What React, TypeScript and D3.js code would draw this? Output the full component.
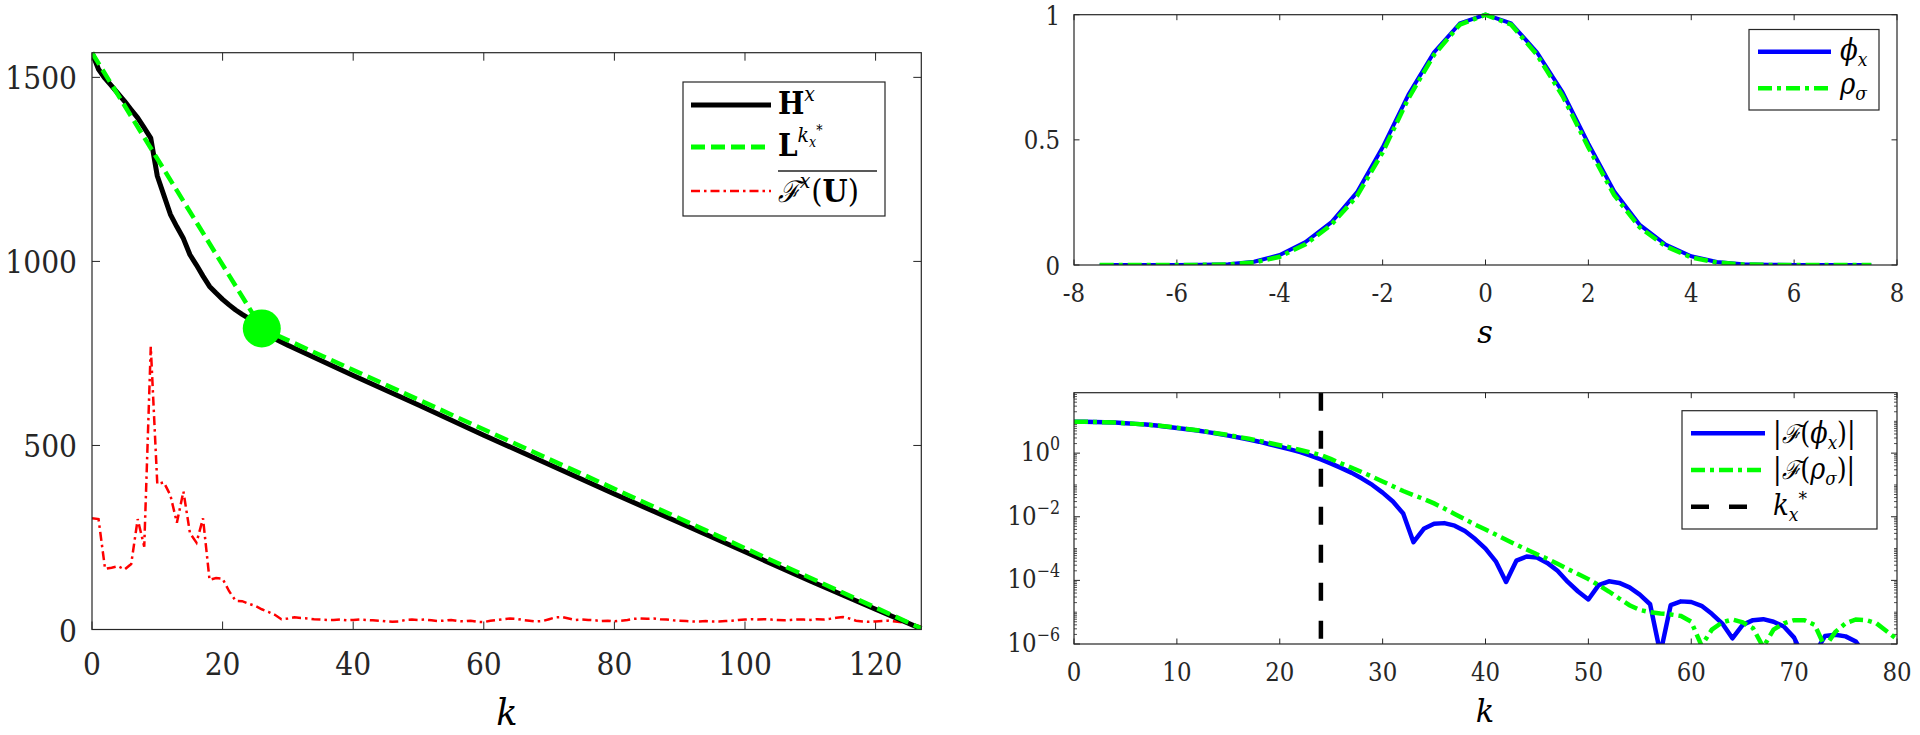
import React from 'react';
import * as d3 from 'd3';

// ---------------- Left panel data ----------------
const hK = [0, 1, 2, 3, 4, 5, 6, 7, 8, 9, 10, 11, 12, 13, 14, 15, 16, 17, 18, 19, 20, 21, 22, 23, 24, 25, 26, 27, 28, 30, 40, 50, 60, 70, 80, 90, 100, 110, 120, 127];
const hV = [1567, 1522, 1497, 1477, 1456, 1435, 1412, 1390, 1363, 1335, 1232, 1180, 1128, 1094, 1062, 1018, 990, 960, 932, 914, 897, 882, 868, 856, 845, 830, 815, 801, 790, 772, 690, 610, 528, 448, 368, 290, 211, 132, 55, 2];
const lK = [0, 26, 127];
const lV = [1567, 818, 3];
const kneeK = 26;
const kneeV = 818;
const redV = [
  302, 300, 165, 168, 172, 163, 178, 300, 225, 768, 395, 400, 365, 290, 375, 262, 236, 302, 135, 140,
  138, 104, 78, 77, 70, 64, 55, 48, 40, 28, 30, 33, 31, 30, 28, 27, 26, 26, 27, 25,
  26, 27, 26, 25, 24, 22, 21, 22, 26, 27, 26, 27, 25, 23, 24, 26, 23, 22, 24, 21,
  20, 24, 26, 28, 30, 29, 26, 24, 22, 23, 28, 33, 34, 30, 26, 27, 26, 25, 23, 24,
  22, 24, 26, 29, 30, 29, 30, 28, 27, 25, 24, 23, 22, 22, 23, 22, 22, 23, 24, 26,
  27, 28, 27, 28, 27, 26, 25, 26, 27, 27, 26, 28, 27, 29, 32, 34, 30, 24, 22, 21,
  22, 23, 24, 22, 20, 17, 12, 8];
const leftXTicks = [0, 20, 40, 60, 80, 100, 120];
const leftYTicks = [0, 500, 1000, 1500];

// ---------------- Top right panel data ----------------
const sVals = [-7.5, -7, -6.5, -6, -5.5, -5, -4.5, -4, -3.5, -3, -2.5, -2, -1.5, -1, -0.5, 0, 0.5, 1, 1.5, 2, 2.5, 3, 3.5, 4, 4.5, 5, 5.5, 6, 6.5, 7, 7.5];
const phiX = [0, 0, 0, 0.0005, 0.001, 0.003, 0.013, 0.04, 0.092, 0.17, 0.29, 0.47, 0.68, 0.85, 0.965, 1, 0.965, 0.85, 0.69, 0.485, 0.295, 0.16, 0.082, 0.035, 0.012, 0.003, 0.001, 0, 0, 0, 0];
const rhoSigma = [0, 0, 0, 0, 0.0005, 0.002, 0.01, 0.033, 0.083, 0.16, 0.275, 0.45, 0.665, 0.84, 0.96, 1, 0.96, 0.84, 0.675, 0.47, 0.28, 0.15, 0.075, 0.03, 0.01, 0.002, 0.0005, 0, 0, 0, 0];
const topXTicks = [-8, -6, -4, -2, 0, 2, 4, 6, 8];
const topYTicks = [0, 0.5, 1];
const topYLabels = ['0', '0.5', '1'];

// ---------------- Bottom right panel data (log10 of magnitude) ----------------
const kSpec = d3.range(0, 81);
const phiHatExp = [
  0.99, 0.99, 0.98, 0.97, 0.96, 0.94, 0.92, 0.90, 0.87, 0.83,
  0.79, 0.75, 0.71, 0.66, 0.61, 0.55, 0.49, 0.43, 0.36, 0.28,
  0.20, 0.12, 0.03, -0.08, -0.20, -0.33, -0.47, -0.62, -0.80, -1.00,
  -1.24, -1.52, -1.90, -2.80, -2.38, -2.22, -2.20, -2.28, -2.45, -2.70,
  -3.00, -3.40, -4.05, -3.38, -3.25, -3.28, -3.45, -3.70, -4.05, -4.35,
  -4.60, -4.15, -4.03, -4.08, -4.22, -4.45, -4.75, -6.30, -4.78, -4.66,
  -4.68, -4.80, -5.05, -5.35, -5.82, -5.40, -5.25, -5.22, -5.30, -5.45,
  -5.80, -6.50, -6.30, -5.75, -5.71, -5.76, -5.92, -6.40, -6.80, -7.00, -7.00];
const rhoHatExp = [
  0.99, 0.99, 0.98, 0.97, 0.96, 0.94, 0.92, 0.90, 0.87, 0.84,
  0.80, 0.76, 0.72, 0.67, 0.62, 0.57, 0.51, 0.45, 0.39, 0.32,
  0.25, 0.18, 0.10, 0.02, -0.06, -0.19, -0.33, -0.46, -0.60, -0.74,
  -0.89, -1.04, -1.19, -1.32, -1.44, -1.58, -1.74, -1.91, -2.08, -2.25,
  -2.40, -2.56, -2.72, -2.88, -3.03, -3.18, -3.32, -3.48, -3.64, -3.80,
  -3.96, -4.15, -4.35, -4.57, -4.78, -4.93, -5.00, -5.04, -5.07, -5.12,
  -5.30, -6.05, -5.55, -5.32, -5.23, -5.32, -5.50, -6.10, -5.55, -5.35,
  -5.25, -5.25, -5.40, -6.10, -5.62, -5.35, -5.23, -5.25, -5.35, -5.60, -5.85];
const kStarX = 24;
const botXTicks = [0, 10, 20, 30, 40, 50, 60, 70, 80];
const botYMajorExp = [0, -2, -4, -6];

// ---------------- Styling ----------------
const FONT = "'DejaVu Serif', serif";
const AX = '#262626';
const GREEN = '#00ff00';
const BLUE = '#0000ff';
const RED = '#ff0000';

type P = [number, number];

type TProps = {
  x: number; y: number; size: number; anchor?: 'start' | 'middle' | 'end';
  sx?: number; italic?: boolean; fill?: string; children?: React.ReactNode;
};
function T({ x, y, size, anchor = 'start', sx = 0.88, italic, fill = '#262626', children }: TProps) {
  return (
    <text transform={`translate(${x},${y}) scale(${sx},1)`} fontSize={size} textAnchor={anchor}
      fontStyle={italic ? 'italic' : undefined} fill={fill} style={{ fontFamily: FONT }}>
      {children}
    </text>
  );
}

export default function App() {
  const xL = d3.scaleLinear().domain([0, 127]).range([92, 921.3]);
  const yL = d3.scaleLinear().domain([0, 1567]).range([629.5, 52.7]);
  const lineL = d3.line<P>().x(d => xL(d[0])).y(d => yL(d[1]));
  const hPts: P[] = hK.map((k, i) => [k, hV[i]]);
  const lPts: P[] = lK.map((k, i) => [k, lV[i]]);
  const rPts: P[] = redV.map((v, i) => [i, v]);

  const xT = d3.scaleLinear().domain([-8, 8]).range([1074, 1897]);
  const yT = d3.scaleLinear().domain([0, 1]).range([265, 14.7]);
  const lineT = d3.line<P>().x(d => xT(d[0])).y(d => yT(d[1]));
  const phiPts: P[] = sVals.map((s, i) => [s, phiX[i]]);
  const rhoPts: P[] = sVals.map((s, i) => [s, rhoSigma[i]]);

  const xB = d3.scaleLinear().domain([0, 80]).range([1074, 1897]);
  const yB = d3.scaleLog().domain([1e-6, Math.pow(10, 1.9)]).range([644, 392.7]);
  const lineB = d3.line<P>().x(d => xB(d[0])).y(d => yB(Math.pow(10, d[1])));
  const phiHatPts: P[] = kSpec.map((k, i) => [k, phiHatExp[i]]);
  const rhoHatPts: P[] = kSpec.map((k, i) => [k, rhoHatExp[i]]);

  const minorLog: number[] = [];
  for (let n = -6; n <= 1; n++) {
    for (let m = 1; m <= 9; m++) {
      const v = m * Math.pow(10, n);
      if (m === 1 && n % 2 === 0) continue;
      if (v > 1e-6 && v < Math.pow(10, 1.9)) minorLog.push(v);
    }
  }

  const boxL = { x0: xL(0), x1: xL(127), y0: yL(1567), y1: yL(0) };
  const boxT = { x0: xT(-8), x1: xT(8), y0: yT(1), y1: yT(0) };
  const boxB = { x0: xB(0), x1: xB(80), y0: yB(Math.pow(10, 1.9)), y1: yB(1e-6) };

  return (
    <svg width={1920} height={735} style={{ position: 'absolute', left: 0, top: 0, background: '#fff', fontFamily: FONT }}>
      <defs>
        <clipPath id="clipL"><rect x={boxL.x0} y={boxL.y0 - 2} width={boxL.x1 - boxL.x0 + 3} height={boxL.y1 - boxL.y0 + 2} /></clipPath>
        <clipPath id="clipT"><rect x={boxT.x0} y={boxT.y0 - 3} width={boxT.x1 - boxT.x0} height={boxT.y1 - boxT.y0 + 3} /></clipPath>
        <clipPath id="clipB"><rect x={boxB.x0} y={boxB.y0} width={boxB.x1 - boxB.x0} height={boxB.y1 - boxB.y0} /></clipPath>
      </defs>
      <rect x={0} y={0} width={1920} height={735} fill="#fff" />

      {/* ================= LEFT PANEL ================= */}
      <g>
        {leftXTicks.map(t => (
          <g key={'lx' + t}>
            <line x1={xL(t)} x2={xL(t)} y1={boxL.y1} y2={boxL.y1 - 8} stroke={AX} strokeWidth={1} />
            <line x1={xL(t)} x2={xL(t)} y1={boxL.y0} y2={boxL.y0 + 8} stroke={AX} strokeWidth={1} />
            <T x={xL(t)} y={675} size={32} anchor="middle">{t}</T>
          </g>
        ))}
        {leftYTicks.map(t => (
          <g key={'ly' + t}>
            <line x1={boxL.x0} x2={boxL.x0 + 8} y1={yL(t)} y2={yL(t)} stroke={AX} strokeWidth={1} />
            <line x1={boxL.x1} x2={boxL.x1 - 8} y1={yL(t)} y2={yL(t)} stroke={AX} strokeWidth={1} />
            <T x={77} y={yL(t) + 12} size={32} anchor="end">{t}</T>
          </g>
        ))}
        <T x={507} y={725} size={37} anchor="middle" italic fill="#000" sx={0.95}>k</T>

        <g clipPath="url(#clipL)">
          <path d={lineL(rPts) || ''} fill="none" stroke={RED} strokeWidth={2.5} strokeDasharray="9,4,2.5,4" />
          <path d={lineL(hPts) || ''} fill="none" stroke="#000" strokeWidth={5} strokeLinejoin="round" />
          <path d={lineL(lPts) || ''} fill="none" stroke={GREEN} strokeWidth={4.5} strokeDasharray="14,6" />
        </g>
        <circle cx={xL(kneeK)} cy={yL(kneeV)} r={19} fill={GREEN} />
        <rect x={boxL.x0} y={boxL.y0} width={boxL.x1 - boxL.x0} height={boxL.y1 - boxL.y0} fill="none" stroke={AX} strokeWidth={1.2} />

        <rect x={683} y={82} width={202} height={134} fill="#fff" stroke={AX} strokeWidth={1.2} />
        <line x1={691} x2={771} y1={105} y2={105} stroke="#000" strokeWidth={5} />
        <line x1={691} x2={771} y1={147} y2={147} stroke={GREEN} strokeWidth={5} strokeDasharray="14,6" />
        <line x1={691} x2={771} y1={191} y2={191} stroke={RED} strokeWidth={2.5} strokeDasharray="9,4,2.5,4" />
        <T x={778} y={114} size={31} fill="#000" sx={0.9}>
          <tspan fontWeight="bold">H</tspan>
          <tspan dy={-13} fontSize={21} fontStyle="italic">x</tspan>
        </T>
        <T x={778} y={156} size={31} fill="#000" sx={0.9}>
          <tspan fontWeight="bold">L</tspan>
          <tspan dy={-14} fontSize={21} fontStyle="italic">k</tspan>
          <tspan dy={5} fontSize={14} fontStyle="italic">x</tspan>
          <tspan dy={-12} fontSize={14}>*</tspan>
        </T>
        <line x1={778} x2={877} y1={171} y2={171} stroke="#222" strokeWidth={1.3} />
        <T x={778} y={202} size={32} fill="#000" sx={0.9}>
          <tspan fontStyle="italic" fontSize={30}>ℱ</tspan>
          <tspan dy={-14} fontSize={21} fontStyle="italic">x</tspan>
          <tspan dy={14} dx={1}>(</tspan>
          <tspan fontWeight="bold">U</tspan>
          <tspan>)</tspan>
        </T>
      </g>

      {/* ================= TOP RIGHT PANEL ================= */}
      <g>
        {topXTicks.map(t => (
          <g key={'tx' + t}>
            <line x1={xT(t)} x2={xT(t)} y1={boxT.y1} y2={boxT.y1 - 5.5} stroke={AX} strokeWidth={1} />
            <line x1={xT(t)} x2={xT(t)} y1={boxT.y0} y2={boxT.y0 + 5.5} stroke={AX} strokeWidth={1} />
            <T x={xT(t)} y={302} size={26} anchor="middle">{t}</T>
          </g>
        ))}
        {topYTicks.map((t, i) => (
          <g key={'ty' + t}>
            <line x1={boxT.x0} x2={boxT.x0 + 5.5} y1={yT(t)} y2={yT(t)} stroke={AX} strokeWidth={1} />
            <line x1={boxT.x1} x2={boxT.x1 - 5.5} y1={yT(t)} y2={yT(t)} stroke={AX} strokeWidth={1} />
            <T x={1060} y={t === 1 ? 25 : yT(t) + 9.5} size={26} anchor="end">{topYLabels[i]}</T>
          </g>
        ))}
        <T x={1485} y={343} size={32} anchor="middle" italic fill="#000" sx={0.95}>s</T>
        <g clipPath="url(#clipT)">
          <path d={lineT(phiPts) || ''} fill="none" stroke={BLUE} strokeWidth={4} strokeLinejoin="round" />
          <path d={lineT(rhoPts) || ''} fill="none" stroke={GREEN} strokeWidth={4.5} strokeDasharray="14,5,4,5" />
        </g>
        <rect x={boxT.x0} y={boxT.y0} width={boxT.x1 - boxT.x0} height={boxT.y1 - boxT.y0} fill="none" stroke={AX} strokeWidth={1.2} />
        <rect x={1749} y={29.5} width={130} height={80.5} fill="#fff" stroke={AX} strokeWidth={1.2} />
        <line x1={1758} x2={1831} y1={51.7} y2={51.7} stroke={BLUE} strokeWidth={4.5} />
        <line x1={1758} x2={1831} y1={88.3} y2={88.3} stroke={GREEN} strokeWidth={4.5} strokeDasharray="14,5,4,5" />
        <T x={1840} y={60} size={29} fill="#000" sx={0.9}>
          <tspan fontStyle="italic">ϕ</tspan>
          <tspan dy={6} fontSize={19} fontStyle="italic">x</tspan>
        </T>
        <T x={1840} y={94} size={29} fill="#000" sx={0.9}>
          <tspan fontStyle="italic">ρ</tspan>
          <tspan dy={6} fontSize={19} fontStyle="italic">σ</tspan>
        </T>
      </g>

      {/* ================= BOTTOM RIGHT PANEL ================= */}
      <g>
        {botXTicks.map(t => (
          <g key={'bx' + t}>
            <line x1={xB(t)} x2={xB(t)} y1={boxB.y1} y2={boxB.y1 - 5.5} stroke={AX} strokeWidth={1} />
            <line x1={xB(t)} x2={xB(t)} y1={boxB.y0} y2={boxB.y0 + 5.5} stroke={AX} strokeWidth={1} />
            <T x={xB(t)} y={681} size={26} anchor="middle">{t}</T>
          </g>
        ))}
        {minorLog.map((v, i) => (
          <g key={'bm' + i}>
            <line x1={boxB.x0} x2={boxB.x0 + 3} y1={yB(v)} y2={yB(v)} stroke={AX} strokeWidth={0.8} />
            <line x1={boxB.x1} x2={boxB.x1 - 3} y1={yB(v)} y2={yB(v)} stroke={AX} strokeWidth={0.8} />
          </g>
        ))}
        {botYMajorExp.map(e => {
          const yy = yB(Math.pow(10, e));
          return (
            <g key={'by' + e}>
              <line x1={boxB.x0} x2={boxB.x0 + 6} y1={yy} y2={yy} stroke={AX} strokeWidth={1} />
              <line x1={boxB.x1} x2={boxB.x1 - 6} y1={yy} y2={yy} stroke={AX} strokeWidth={1} />
              <T x={1060} y={yy + 8} size={26} anchor="end">
                <tspan>10</tspan>
                <tspan dy={-11} fontSize={18}>{e === 0 ? '0' : '−' + Math.abs(e)}</tspan>
              </T>
            </g>
          );
        })}
        <T x={1485} y={722} size={32} anchor="middle" italic fill="#000" sx={0.95}>k</T>
        <g clipPath="url(#clipB)">
          <line x1={xB(kStarX)} x2={xB(kStarX)} y1={boxB.y0} y2={boxB.y1} stroke="#000" strokeWidth={4.5} strokeDasharray="18,20" />
          <path d={lineB(phiHatPts) || ''} fill="none" stroke={BLUE} strokeWidth={4.5} strokeLinejoin="round" />
          <path d={lineB(rhoHatPts) || ''} fill="none" stroke={GREEN} strokeWidth={4.5} strokeDasharray="14,5,4,5" />
        </g>
        <rect x={boxB.x0} y={boxB.y0} width={boxB.x1 - boxB.x0} height={boxB.y1 - boxB.y0} fill="none" stroke={AX} strokeWidth={1.2} />
        <rect x={1682} y={410.7} width={195} height={118.3} fill="#fff" stroke={AX} strokeWidth={1.2} />
        <line x1={1691} x2={1765} y1={433.3} y2={433.3} stroke={BLUE} strokeWidth={4.5} />
        <line x1={1691} x2={1765} y1={470} y2={470} stroke={GREEN} strokeWidth={4.5} strokeDasharray="14,5,4,5" />
        <line x1={1691} x2={1765} y1={506.7} y2={506.7} stroke="#000" strokeWidth={4.5} strokeDasharray="18,20" />
        <T x={1773} y={443} size={29} fill="#000" sx={0.88}>
          <tspan>|</tspan>
          <tspan fontStyle="italic" fontSize={26}>ℱ</tspan>
          <tspan>(</tspan>
          <tspan fontStyle="italic">ϕ</tspan>
          <tspan dy={6} fontSize={19} fontStyle="italic">x</tspan>
          <tspan dy={-6}>)|</tspan>
        </T>
        <T x={1773} y={479} size={29} fill="#000" sx={0.88}>
          <tspan>|</tspan>
          <tspan fontStyle="italic" fontSize={26}>ℱ</tspan>
          <tspan>(</tspan>
          <tspan fontStyle="italic">ρ</tspan>
          <tspan dy={6} fontSize={19} fontStyle="italic">σ</tspan>
          <tspan dy={-6}>)|</tspan>
        </T>
        <T x={1773} y={515} size={29} fill="#000" sx={0.9}>
          <tspan fontStyle="italic">k</tspan>
          <tspan dy={6} fontSize={19} fontStyle="italic">x</tspan>
          <tspan dy={-16} fontSize={19}>*</tspan>
        </T>
      </g>
    </svg>
  );
}
